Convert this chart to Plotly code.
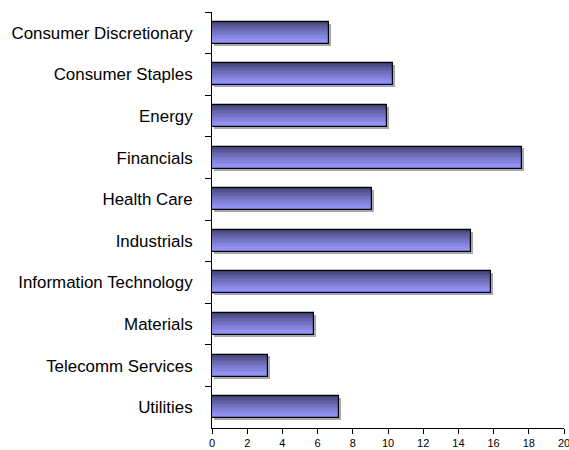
import plotly.graph_objects as go

categories = ["Consumer Discretionary", "Consumer Staples", "Energy", "Financials",
              "Health Care", "Industrials", "Information Technology", "Materials",
              "Telecomm Services", "Utilities"]
values = [6.65, 10.28, 9.94, 17.61, 9.11, 14.70, 15.85, 5.81, 3.18, 7.21]
x_ticks = [0, 2, 4, 6, 8, 10, 12, 14, 16, 18, 20]

W = 0.53
N = 16
top = (62, 62, 110)
bot = (153, 153, 255)

fig = go.Figure()

# shadow
fig.add_trace(go.Bar(y=categories, x=values, base=0.12, orientation="h",
                     width=W, offset=-W / 2 + 0.045,
                     marker=dict(color="#a8a8a8", line=dict(width=0)),
                     hoverinfo="skip", showlegend=False))

# gradient bands
for i in range(N):
    t = i / (N - 1)
    t = t ** 0.75
    c = tuple(round(top[k] + (bot[k] - top[k]) * t) for k in range(3))
    fig.add_trace(go.Bar(y=categories, x=values, orientation="h",
                         width=W / N + 0.002, offset=-W / 2 + i * W / N,
                         marker=dict(color="rgb(%d,%d,%d)" % c, line=dict(width=0)),
                         hoverinfo="skip", showlegend=False))

# outline
fig.add_trace(go.Bar(y=categories, x=values, orientation="h",
                     width=W, offset=-W / 2,
                     marker=dict(color="rgba(0,0,0,0)", line=dict(color="#000000", width=1.2)),
                     hoverinfo="skip", showlegend=False))

fig.update_layout(
    width=569, height=450,
    margin=dict(l=212, r=5, t=12, b=22, autoexpand=False),
    paper_bgcolor="white", plot_bgcolor="white",
    barmode="overlay", bargap=0,
    showlegend=False,
    font=dict(family="Liberation Sans, Arial, sans-serif", color="black"),
)
fig.update_xaxes(range=[0, 20], tickvals=x_ticks, ticktext=[str(v) for v in x_ticks],
                 showgrid=False, zeroline=False, showline=True, linecolor="black",
                 linewidth=1, ticks="outside", ticklen=5, tickcolor="black",
                 tickfont=dict(size=11), ticklabeloverflow="allow",
                 ticklabelstandoff=0, automargin=False, fixedrange=True)
fig.update_yaxes(categoryorder="array", categoryarray=categories, autorange="reversed",
                 tickson="boundaries", showgrid=False, zeroline=False, showline=True,
                 linecolor="black", linewidth=1, ticks="outside", ticklen=6,
                 tickcolor="black", tickfont=dict(size=16.9), ticklabelstandoff=15,
                 automargin=False, fixedrange=True)

fig.write_html("out.html")
